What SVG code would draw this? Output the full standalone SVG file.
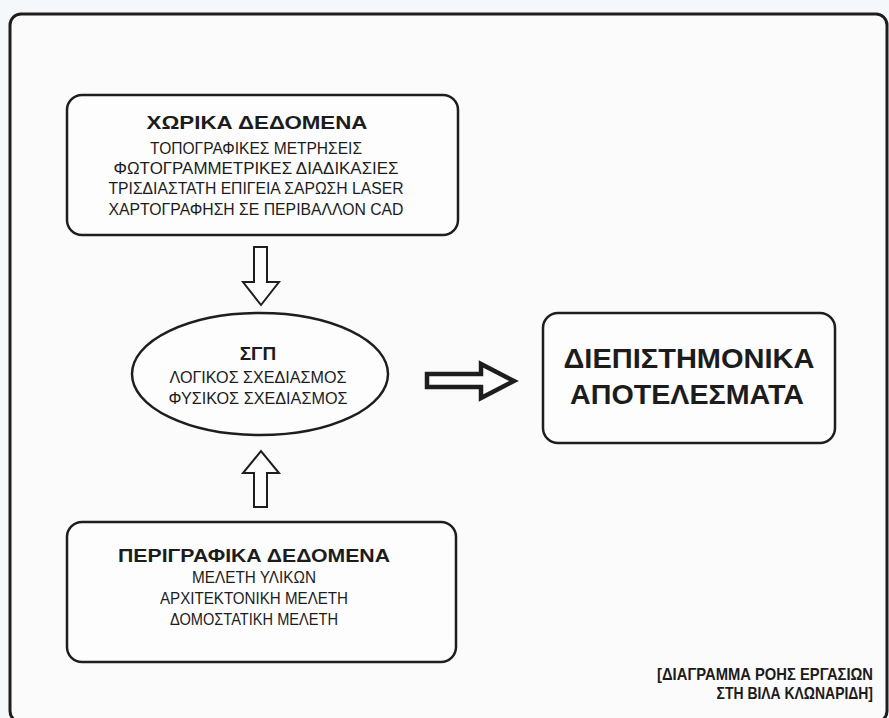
<svg xmlns="http://www.w3.org/2000/svg" width="889" height="718" viewBox="0 0 889 718">
<style>
.box{fill:#fdfdfd;stroke:#1e1e1e;stroke-width:2.5}
.arr{fill:#fdfdfd;stroke:#1e1e1e;stroke-width:2;stroke-linejoin:miter}
.arrb{fill:#fdfdfd;stroke:#1e1e1e;stroke-width:4.5;stroke-linejoin:miter}
text{font-family:"Liberation Sans","Open Sans","DejaVu Sans",sans-serif;fill:#1c1c1c;text-anchor:middle}
.t{font-weight:bold;font-size:19px}
.s{font-size:16px}
.big{font-weight:bold;font-size:28px}
.cap{font-weight:bold;font-size:16px;text-anchor:end}
</style>
<rect x="0" y="0" width="889" height="718" fill="#f5f8fa"/>
<rect id="frame" x="10" y="14" width="877" height="708" rx="11" fill="#fbfbfb" stroke="#1e1e1e" stroke-width="3"/>
<g id="connectors">
<polygon class="arr" points="254,247 267,247 267,282 279,282 261,305 243,282 254,282"/>
<polygon class="arr" points="254,507 267,507 267,473 279,473 261,451 243,473 254,473"/>
<polygon class="arrb" points="427,374 481,374 481,364 514,381 481,398 481,387 427,387"/>
</g>
<g id="spatial-data">
<rect class="box" x="67" y="95" width="391" height="140" rx="15"/>
<text class="t" x="257" y="129" textLength="221" lengthAdjust="spacingAndGlyphs">ΧΩΡΙΚΑ ΔΕΔΟΜΕΝΑ</text>
<text class="s" x="256" y="154" textLength="212" lengthAdjust="spacingAndGlyphs">ΤΟΠΟΓΡΑΦΙΚΕΣ ΜΕΤΡΗΣΕΙΣ</text>
<text class="s" x="256" y="174" textLength="285" lengthAdjust="spacingAndGlyphs">ΦΩΤΟΓΡΑΜΜΕΤΡΙΚΕΣ ΔΙΑΔΙΚΑΣΙΕΣ</text>
<text class="s" x="256" y="194" textLength="295" lengthAdjust="spacingAndGlyphs">ΤΡΙΣΔΙΑΣΤΑΤΗ ΕΠΙΓΕΙΑ ΣΑΡΩΣΗ LASER</text>
<text class="s" x="256" y="215" textLength="295" lengthAdjust="spacingAndGlyphs">ΧΑΡΤΟΓΡΑΦΗΣΗ ΣΕ ΠΕΡΙΒΑΛΛΟΝ CAD</text>
</g>
<g id="gis">
<ellipse class="box" cx="260" cy="374" rx="128" ry="61"/>
<text class="t" x="258" y="360">ΣΓΠ</text>
<text class="s" x="258" y="383" textLength="177" lengthAdjust="spacingAndGlyphs">ΛΟΓΙΚΟΣ ΣΧΕΔΙΑΣΜΟΣ</text>
<text class="s" x="258" y="404" textLength="179" lengthAdjust="spacingAndGlyphs">ΦΥΣΙΚΟΣ ΣΧΕΔΙΑΣΜΟΣ</text>
</g>
<g id="results">
<rect class="box" x="543" y="313" width="292" height="130" rx="15"/>
<text class="big" x="689" y="368" textLength="251" lengthAdjust="spacingAndGlyphs">ΔΙΕΠΙΣΤΗΜΟΝΙΚΑ</text>
<text class="big" x="687" y="404" textLength="234" lengthAdjust="spacingAndGlyphs">ΑΠΟΤΕΛΕΣΜΑΤΑ</text>
</g>
<g id="descriptive-data">
<rect class="box" x="67" y="522" width="389" height="140" rx="15"/>
<text class="t" x="254" y="562" textLength="272" lengthAdjust="spacingAndGlyphs">ΠΕΡΙΓΡΑΦΙΚΑ ΔΕΔΟΜΕΝΑ</text>
<text class="s" x="254" y="583" textLength="124" lengthAdjust="spacingAndGlyphs">ΜΕΛΕΤΗ ΥΛΙΚΩΝ</text>
<text class="s" x="254" y="604" textLength="188" lengthAdjust="spacingAndGlyphs">ΑΡΧΙΤΕΚΤΟΝΙΚΗ ΜΕΛΕΤΗ</text>
<text class="s" x="254" y="625" textLength="168" lengthAdjust="spacingAndGlyphs">ΔΟΜΟΣΤΑΤΙΚΗ ΜΕΛΕΤΗ</text>
</g>
<g id="caption">
<text class="cap" transform="translate(873,680) scale(0.85,1)" x="0" y="0" textLength="254" lengthAdjust="spacingAndGlyphs">[ΔΙΑΓΡΑΜΜΑ ΡΟΗΣ ΕΡΓΑΣΙΩΝ</text>
<text class="cap" transform="translate(873,699) scale(0.85,1)" x="0" y="0" textLength="184" lengthAdjust="spacingAndGlyphs">ΣΤΗ ΒΙΛΑ ΚΛΩΝΑΡΙΔΗ]</text>
</g>
</svg>
